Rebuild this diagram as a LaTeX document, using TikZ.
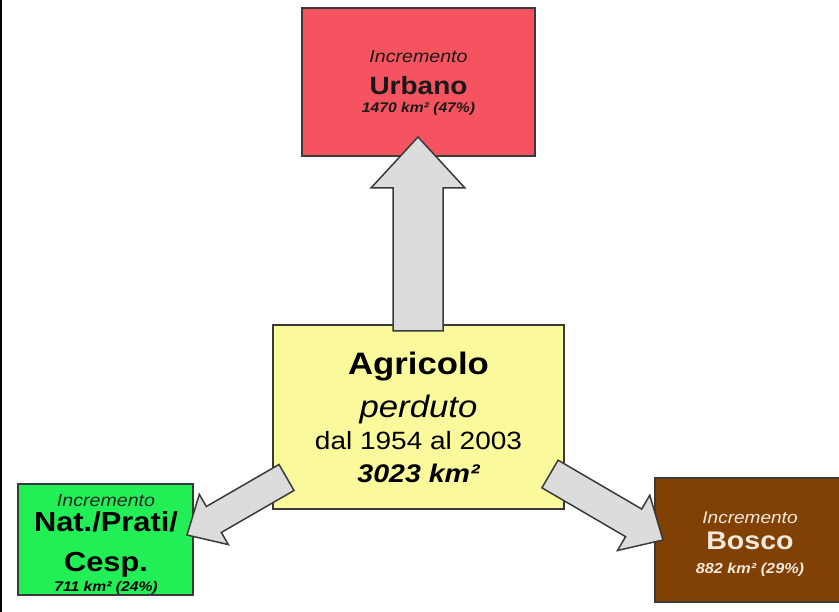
\documentclass[tikz,border=0pt]{standalone}
\usepackage{fontspec}
\setmainfont{Liberation Sans}[FakeStretch=1.12]
\usetikzlibrary{calc}
\definecolor{urbred}{HTML}{F5535F}
\definecolor{agryel}{HTML}{FAFA9C}
\definecolor{natgreen}{HTML}{22EE55}
\definecolor{boscobrown}{HTML}{824104}
\definecolor{arrgrey}{HTML}{DCDCDC}
\definecolor{edgegrey}{HTML}{3A3A3A}
\definecolor{cream}{HTML}{F3E9DD}
\tikzset{
  box/.style={draw=edgegrey, line width=1.2pt},
  txt/.style={inner sep=0pt, anchor=base},
  arrowbody/.style={draw=edgegrey, fill=arrgrey, line width=1.5pt, line join=miter},
}
\newcommand\fatarr[5]{%
  \coordinate (fb) at ($(#2)!#5!(#1)$);
  \draw[arrowbody] ($(#1)!#3!90:(#2)$) -- ($(fb)!#3!90:(#2)$) -- ($(fb)!#4!90:(#2)$) -- (#2)
    -- ($(fb)!#4!-90:(#2)$) -- ($(fb)!#3!-90:(#2)$) -- ($(#1)!#3!-90:(#2)$) -- cycle;}
\begin{document}
\begin{tikzpicture}[x=1pt,y=-1pt]
\useasboundingbox (0,0) rectangle (839,612);
\clip (0,0) rectangle (839,612);
\fill[white] (0,0) rectangle (839,612);
\draw[line width=2pt, black] (1,0) -- (1,612);
% boxes
\draw[box, fill=urbred] (302,8) rectangle (535,156);
\draw[box, fill=agryel] (273,325) rectangle (564,509);
\draw[box, fill=natgreen] (18,484) rectangle (193,595);
\draw[box, fill=boscobrown] (655,478) rectangle (848,602);
% texts
\node[txt, text=black!90] (u1) at (418.5,63) {\fontsize{17.5}{17.5}\selectfont\itshape Incremento};
\node[txt, text=black!90] (u2) at (418.5,95) {\fontsize{25}{25}\selectfont\bfseries Urbano};
\node[txt, text=black!90] (u3) at (418.5,113) {\fontsize{14}{14}\selectfont\bfseries\itshape 1470 km² (47\%)};
\node[txt] (a1) at (418.5,375) {\fontsize{31}{31}\selectfont\bfseries Agricolo};
\node[txt] (a2) at (418.5,418) {\fontsize{31}{31}\selectfont\itshape perduto};
\node[txt] (a3) at (418.5,450) {\fontsize{25}{25}\selectfont dal 1954 al 2003};
\node[txt] (a4) at (418.5,483) {\fontsize{25.5}{25.5}\selectfont\bfseries\itshape 3023 km²};
\node[txt, text=black!85] (n1) at (106,507) {\fontsize{17.5}{17.5}\selectfont\itshape Incremento};
\node[txt] (n2) at (106,532) {\fontsize{27.5}{27.5}\selectfont\bfseries Nat./Prati/};
\node[txt] (n3) at (106,572) {\fontsize{27.5}{27.5}\selectfont\bfseries Cesp.};
\node[txt] (n4) at (106,591) {\fontsize{14}{14}\selectfont\bfseries\itshape 711 km² (24\%)};
\node[txt, text=cream] (b1) at (750,523) {\fontsize{17}{17}\selectfont\itshape Incremento};
\node[txt, text=cream] (b2) at (750,550) {\fontsize{25.5}{25.5}\selectfont\bfseries Bosco};
\node[txt, text=cream] (b3) at (750,573) {\fontsize{14.5}{14.5}\selectfont\bfseries\itshape 882 km² (29\%)};
% arrows
\coordinate (upT) at (418,331);
\coordinate (upH) at (418,137);
\coordinate (lfT) at (286.5,477.5);
\coordinate (lfH) at (187,535);
\coordinate (rtT) at (550,474);
\coordinate (rtH) at (663,540);
\fatarr{upT}{upH}{25pt}{47pt}{51pt}
\fatarr{lfT}{lfH}{15pt}{29pt}{31pt}
\fatarr{rtT}{rtH}{16pt}{32pt}{34pt}
\end{tikzpicture}
\end{document}
